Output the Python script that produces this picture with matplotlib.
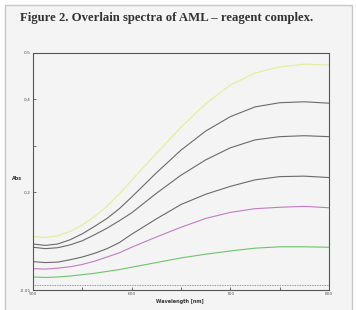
import matplotlib
matplotlib.use('Agg')
import matplotlib.pyplot as plt
from matplotlib.patches import Rectangle

# Wavelengths (nm) and absorbance readings for each spectrum
wavelength = [500, 512.5, 525, 537.5, 550, 562.5, 575, 587.5, 600,
              625, 650, 675, 700, 725, 750, 775, 800]
abs_yellow = [0.105, 0.103, 0.1065, 0.116, 0.130, 0.148, 0.170, 0.197, 0.226,
              0.284, 0.340, 0.391, 0.431, 0.457, 0.470, 0.476, 0.474]
abs_gray1 = [0.089, 0.086, 0.089, 0.098, 0.111, 0.127, 0.144, 0.165, 0.190,
             0.242, 0.291, 0.332, 0.363, 0.384, 0.393, 0.395, 0.392]
abs_gray2 = [0.082, 0.079, 0.081, 0.087, 0.096, 0.109, 0.123, 0.139, 0.156,
             0.198, 0.237, 0.270, 0.296, 0.313, 0.320, 0.322, 0.320]
abs_gray3 = [0.051, 0.049, 0.050, 0.055, 0.061, 0.069, 0.079, 0.092, 0.110,
             0.143, 0.174, 0.196, 0.213, 0.227, 0.234, 0.235, 0.232]
abs_magenta = [0.036, 0.035, 0.037, 0.040, 0.045, 0.052, 0.061, 0.070, 0.082,
               0.104, 0.125, 0.144, 0.157, 0.165, 0.168, 0.170, 0.167]
abs_green = [0.018, 0.017, 0.018, 0.020, 0.023, 0.026, 0.030, 0.034, 0.039,
             0.049, 0.059, 0.067, 0.074, 0.080, 0.083, 0.083, 0.082]

x_ticks = [500, 600, 700, 800]
x_minor = [550, 650, 750]
y_ticks = [-0.01, 0.2, 0.3, 0.4, 0.5]
y_ticklabels = ['-0.01', '0.2', '', '0.4', '0.5']

bg = '#f4f4f4'
fig = plt.figure(figsize=(3.56, 3.10), dpi=100, facecolor='white')

# page panel with light border
fig.patches.append(Rectangle((5 / 356, -0.02), 347 / 356, 1 - 5 / 310 + 0.02,
                             transform=fig.transFigure, facecolor=bg,
                             edgecolor='#c8c8c8', linewidth=1.0, zorder=-5))

fig.text(20 / 356, 1 - 18 / 310, 'Figure 2. Overlain spectra of AML \u2013 reagent complex.',
         family='Liberation Serif', fontweight='bold', fontsize=9.2,
         color='#333333', va='center', ha='left')

ax = fig.add_axes([33 / 356, 1 - 290 / 310, 296 / 356, 237 / 310])
ax.set_zorder(2)
ax.set_facecolor(bg)

ax.plot(wavelength, abs_yellow, color='#e6eda0', lw=0.9)
ax.plot(wavelength, abs_gray1, color='#6a6a6a', lw=0.8)
ax.plot(wavelength, abs_gray2, color='#6a6a6a', lw=0.8)
ax.plot(wavelength, abs_gray3, color='#6a6a6a', lw=0.8)
ax.plot(wavelength, abs_magenta, color='#c47ac4', lw=0.8)
ax.plot(wavelength, abs_green, color='#6cc46c', lw=0.8)
ax.axhline(0, color='#777777', lw=0.6, ls=(0, (1, 1)))

ax.set_xlim(500, 800)
ax.set_ylim(-0.01, 0.5)
ax.set_xticks(x_ticks)
ax.set_xticks(x_minor, minor=True)
ax.set_yticks(y_ticks)
ax.set_yticklabels(y_ticklabels)
ax.tick_params(axis='both', which='both', labelsize=3.2, colors='#555555',
               length=2, width=0.6, direction='in', pad=1.5)

for s in ax.spines.values():
    s.set_color('#555555')
    s.set_linewidth(0.8)

fig.text(17 / 356, 1 - 178 / 310, 'Abs', fontsize=3.5, fontweight='bold',
         color='#333333', ha='center', va='center')
fig.text(180 / 356, 1 - 302 / 310, 'Wavelength [nm]', fontsize=3.5, fontweight='bold',
         color='#333333', ha='center', va='center')

fig.savefig('out.png', dpi=100, facecolor=fig.get_facecolor())
